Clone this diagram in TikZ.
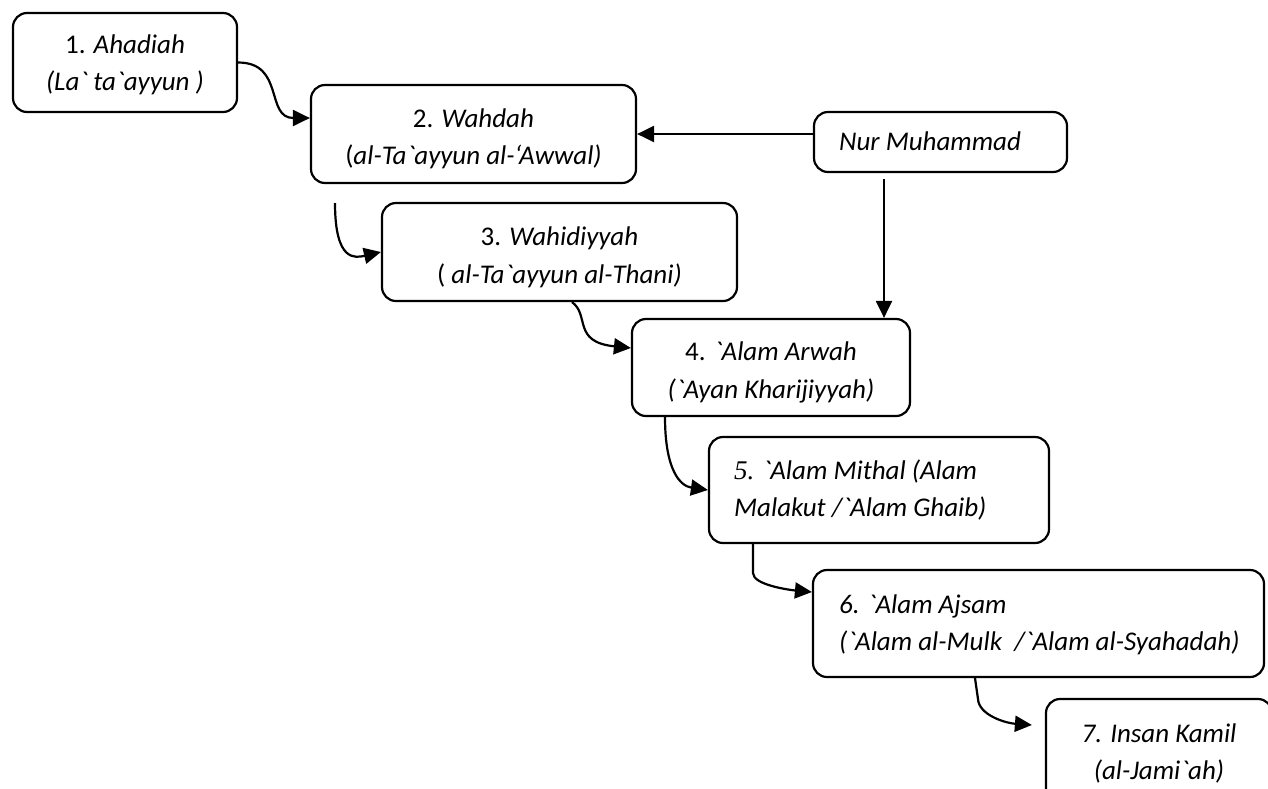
\documentclass[tikz,border=0pt]{standalone}
\usepackage{fontspec}
\setmainfont{Carlito}
\newfontfamily\calib{Carlito}
\newfontfamily\tmsfont{Liberation Serif}
\usetikzlibrary{arrows.meta}
\newcommand{\bq}{\symbol{96}}
\begin{document}
\begin{tikzpicture}[x=1pt,y=-1pt,line width=2.2pt,
  box/.style={draw, rounded corners=14pt, inner sep=0pt},
  txt/.style={inner sep=0pt, font=\calib\fontsize{27}{37.5}\selectfont},
  arr/.style={-{Triangle[length=17pt,width=16pt]}}]
\clip (0,0) rectangle (1268,788);
% boxes
\node[box, minimum width=224pt, minimum height=99pt] (b1) at (125,62.5) {};
\node[box, minimum width=325pt, minimum height=98pt] (b2) at (473.5,134) {};
\node[box, minimum width=253pt, minimum height=60pt] (nur) at (940.5,142) {};
\node[box, minimum width=355pt, minimum height=98pt] (b3) at (559.5,252) {};
\node[box, minimum width=278pt, minimum height=97pt] (b4) at (771,367.5) {};
\node[box, minimum width=340pt, minimum height=106pt] (b5) at (879,490) {};
\node[box, minimum width=451pt, minimum height=107pt] (b6) at (1038.5,623.5) {};
\node[box, minimum width=226pt, minimum height=116pt] (b7) at (1159,757) {};
% texts
\node[txt, align=center] (t1) at (125,65) {1. \textit{Ahadiah}\\\textit{(La\bq{} ta\bq ayyun )}};
\node[txt, align=center] (t2) at (473.5,139) {2. \textit{Wahdah}\\(\textit{al-Ta\bq ayyun al-‘Awwal)}};
\node[txt, anchor=base west] (tn) at (838,150) {\textit{Nur Muhammad}};
\node[txt, align=center] (t3) at (559.5,257.5) {3. \textit{Wahidiyyah}\\( \textit{al-Ta\bq ayyun al-Thani)}};
\node[txt, align=center] (t4) at (771,372.5) {4. \textit{\bq Alam Arwah}\\\textit{(\bq Ayan Kharijiyyah)}};
\node[txt, align=left, anchor=west] (t5) at (733,490) {{\tmsfont\itshape 5.} \textit{\bq Alam Mithal (Alam}\\\textit{Malakut /\bq Alam Ghaib)}};
\node[txt, align=left, anchor=west] (t6) at (838,625) {\textit{6. \bq Alam Ajsam}\\\textit{(\bq Alam al-Mulk\ \ /\bq Alam al-Syahadah)}};
\node[txt, align=center] (t7) at (1159,753.5) {\textit{7. Insan Kamil}\\\textit{(al-Jami\bq ah)}};
% connectors
\coordinate (c23) at (335,203);
\coordinate (c4) at (884,179);
\coordinate (c67) at ([shift={(-13pt,32pt)}]b7.west);
\draw[arr] (b1.east) .. controls (285,62.5) and (265,118) .. ([yshift=16pt]b2.west);
\draw[arr] (c23) .. controls (335,262) and (355,258) .. (b3.west);
\draw[arr] ([xshift=12.5pt]b3.south) .. controls (590,315) and (572,342) .. ([yshift=19.5pt]b4.west);
\draw[arr] ([xshift=-106pt]b4.south) .. controls (665,470) and (680,486) .. (b5.west);
\draw[arr] ([xshift=-126pt]b5.south) -- ++(0,29) .. controls (753,585) and (790,590) .. ([yshift=31.5pt]b6.west);
\draw[arr] ([xshift=-63.5pt]b6.south) -- ++(3,21) .. controls (979,715) and (1005,723) .. (c67);
\draw[arr] (nur.west |- b2.east) -- (b2.east);
\draw[arr] (c4) -- (c4 |- b4.north);
\end{tikzpicture}
\end{document}
